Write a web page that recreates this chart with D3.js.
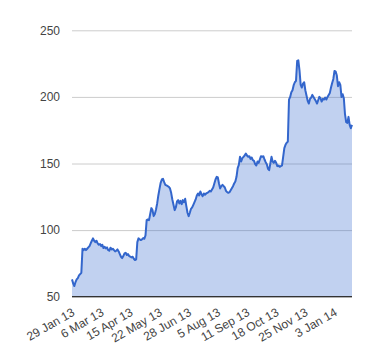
<!DOCTYPE html>
<html>
<head>
<meta charset="utf-8">
<script src="https://cdn.jsdelivr.net/npm/d3@7"></script>
<style>
  html, body { margin: 0; padding: 0; background: #fff; }
  svg { display: block; font-family: "Liberation Sans", Arial, sans-serif; }
</style>
</head>
<body>
<svg id="chart" width="380" height="360"></svg>
<script>
// Values (one per trading day)
const values = [
  63, 60, 58, 61, 63, 64, 66, 67, 68, 86,
  85, 86, 85, 86, 87, 88, 90, 92, 93.8, 92,
  91, 92, 90, 89, 89.5, 88, 89, 86.5, 87.5, 86.3,
  87, 85, 84.5, 86.8, 85.5, 86, 85, 84, 84.5, 85.5,
  84, 82, 80, 79, 80.5, 82.5, 83, 81.3, 82, 80.5,
  80, 79.5, 80, 78.5, 77.5, 78, 91, 93.8, 93, 92.5,
  93, 94, 93.5, 96, 107.5, 108, 107.5, 112, 116.5, 115,
  110.5, 112, 115.5, 120, 126, 131, 135.5, 138, 138.5, 136,
  134, 133.5, 133, 132.5, 131.3, 128, 123, 119, 115, 117,
  121.5, 122.5, 120, 122, 119.5, 122.5, 121, 123.5, 118, 113,
  110.5, 113, 116, 117, 119, 121, 123, 126, 127.5, 126,
  129, 127, 125.5, 127.5, 126.5, 127.5, 128, 128.5, 129.5, 129,
  130.5, 132, 135, 138, 140, 139.5, 135, 131.3, 133, 134,
  133, 132, 129.5, 128.5, 128, 128.5, 130, 131.5, 133, 135,
  136.5, 140, 146.5, 149, 155, 151.5, 154, 155, 156, 157.5,
  156, 155, 155.5, 153.5, 154.5, 152.5, 152, 149.5, 148.5, 151.5,
  150.5, 153, 155.5, 155, 155.5, 153, 151, 149.5, 146, 145,
  150, 155, 151.5, 150.5, 152, 150.5, 148, 148.5, 147.5, 148,
  148.5, 155, 161.5, 164, 165.5, 166.5, 198, 200, 203.5, 205,
  208.8, 211, 212, 227, 227.5, 220, 209, 207, 210, 211,
  205, 201, 197, 195, 198.5, 199.5, 201.5, 200, 198.5, 197,
  195, 197.5, 200, 199, 196.5, 198.5, 198, 199.5, 198, 200,
  201.5, 203, 207, 210.5, 213.5, 219.5, 219, 216, 208, 211,
  209, 200, 202, 199, 187, 181, 180.5, 185, 179, 176.5,
  179
];
// Category tick labels (every 25th point)
const tickIndices = [0, 25, 50, 75, 100, 125, 150, 175, 200, 225];
const tickLabels = ["29 Jan 13", "6 Mar 13", "15 Apr 13", "22 May 13", "28 Jun 13",
                    "5 Aug 13", "11 Sep 13", "18 Oct 13", "25 Nov 13", "3 Jan 14"];
const yTicks = [50, 100, 150, 200, 250];

const svg = d3.select("#chart");
const plotLeft = 72, plotRight = 352, plotTop = 30.3, plotBottom = 296.7;

const x = d3.scaleLinear().domain([0, values.length - 1]).range([plotLeft, plotRight]);
const y = d3.scaleLinear().domain([50, 250]).range([plotBottom, plotTop]);

// gridlines + y labels
const yAxis = svg.append("g")
  .attr("transform", `translate(${plotLeft},0)`)
  .call(d3.axisLeft(y).tickValues(yTicks).tickSize(-(plotRight - plotLeft)).tickPadding(12));
yAxis.select(".domain").remove();
yAxis.selectAll(".tick line").attr("stroke", "#cccccc").attr("stroke-width", 1);
yAxis.selectAll(".tick text")
  .attr("fill", "#444444").attr("font-size", 12)
  .attr("font-family", "'Liberation Sans', Arial, sans-serif");

// area + line
const data = values.map((v, i) => ({ i, v }));
svg.append("path")
  .datum(data)
  .attr("fill", "#3366cc")
  .attr("fill-opacity", 0.3)
  .attr("d", d3.area().x(d => x(d.i)).y0(y(50)).y1(d => y(d.v)));
svg.append("path")
  .datum(data)
  .attr("fill", "none")
  .attr("stroke", "#3366cc")
  .attr("stroke-width", 2)
  .attr("stroke-linejoin", "round")
  .attr("d", d3.line().x(d => x(d.i)).y(d => y(d.v)));

// baseline
svg.append("line")
  .attr("x1", plotLeft).attr("x2", plotRight)
  .attr("y1", y(50)).attr("y2", y(50))
  .attr("stroke", "#333333").attr("stroke-width", 1.2);

// x axis labels (rotated)
const xAxis = svg.append("g")
  .attr("transform", `translate(0,${plotBottom})`)
  .call(d3.axisBottom(x).tickValues(tickIndices)
    .tickFormat((d, k) => tickLabels[k]).tickSize(0).tickPadding(0));
xAxis.select(".domain").remove();
xAxis.selectAll(".tick text")
  .attr("fill", "#444444").attr("font-size", 12)
  .attr("font-family", "'Liberation Sans', Arial, sans-serif")
  .attr("text-anchor", "end")
  .attr("dy", null)
  .attr("transform", "translate(3,18) rotate(-30)");
</script>
</body>
</html>
